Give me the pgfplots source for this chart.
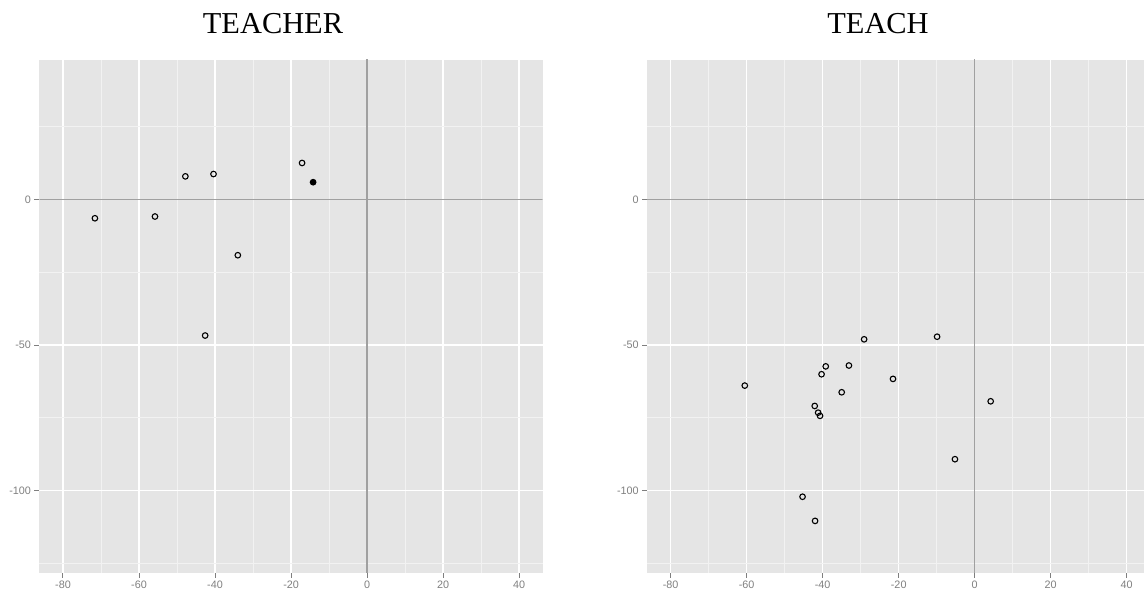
\documentclass[border=0pt]{standalone}
\usepackage{pgfplots}
\pgfplotsset{compat=1.18}
\usepackage{fontspec}
\setmainfont{Liberation Serif}
\newfontfamily\helv{Liberation Sans}

\definecolor{panelbg}{HTML}{E5E5E5}
\definecolor{minorgrid}{HTML}{F2F2F2}
\definecolor{ticktext}{HTML}{7F7F7F}
\definecolor{zeroline}{HTML}{A0A0A0}

% ggplot2 grey theme, one panel
\pgfplotsset{ggpanel/.style={
  scale only axis, height=256.35pt,
  anchor=south west,
  ymin=-128.2, ymax=48.0,
  axis background/.style={fill=panelbg},
  axis line style={draw=none},
  xtick={-80,-60,-40,-20,0,20,40},
  xticklabels={-80,-60,-40,-20,0,20,40},
  ytick={-100,-50,0},
  yticklabels={-100,-50,0},
  minor xtick={-70,-50,-30,-10,10,30},
  minor ytick={-125,-75,-25,25},
  grid=both,
  major grid style={white, line width=0.7pt},
  minor grid style={minorgrid, line width=0.45pt},
  tick align=outside,
  major tick length=2.5pt, minor tick length=0pt,
  xtick pos=bottom, ytick pos=left,
  major tick style={ticktext, line width=0.5pt},
  tick label style={font=\helv\fontsize{5.4}{6}\selectfont, text=ticktext, inner sep=0pt},
  xticklabel style={yshift=-1.5pt},
  yticklabel style={xshift=-1.5pt},
  clip=true,
}}

\begin{document}
\begin{tikzpicture}
% TEACHER
\begin{axis}[ggpanel, at={(19.7pt,9.65pt)}, width=251.65pt, xmin=-86.2, xmax=46.2]
  \addplot[zeroline, line width=0.75pt] coordinates {(-200,0) (200,0)};
  \addplot[zeroline, line width=0.75pt] coordinates {(0,-300) (0,300)};
  \addplot[only marks, mark=o, mark size=1.4pt, mark options={black, line width=0.55pt}] coordinates {
    (-71.6,-6.4) (-55.8,-5.8) (-47.8,8.0) (-40.4,8.8)
    (-17.1,12.6) (-34.0,-19.1) (-42.6,-46.7)
  };
  \addplot[only marks, mark=*, mark size=1.4pt, mark options={black, fill=black, line width=0.55pt}] coordinates {
    (-14.2,6.0)
  };
\end{axis}
% TEACH
\begin{axis}[ggpanel, at={(323.55pt,9.65pt)}, width=248.45pt, xmin=-86.2, xmax=44.55]
  \addplot[zeroline, line width=0.75pt] coordinates {(-200,0) (200,0)};
  \addplot[zeroline, line width=0.75pt] coordinates {(0,-300) (0,300)};
  \addplot[only marks, mark=o, mark size=1.4pt, mark options={black, line width=0.55pt}] coordinates {
    (-60.5,-63.9) (-45.3,-102.1) (-42.0,-110.4) (-42.1,-70.9)
    (-41.2,-73.2) (-40.7,-74.3) (-40.3,-60.0) (-39.2,-57.3)
    (-35.0,-66.2) (-33.1,-57.0) (-29.1,-48.0) (-21.5,-61.6)
    (-9.9,-47.1) (-5.2,-89.2) (4.2,-69.3)
  };
\end{axis}
\node[anchor=base, font=\fontsize{15.2}{17}\selectfont, inner sep=0pt] at (136.5pt,279.4pt) {TEACHER};
\node[anchor=base, font=\fontsize{15.2}{17}\selectfont, inner sep=0pt] at (439pt,279.4pt) {TEACH};
\pgfresetboundingbox
\path[use as bounding box] (0,0) rectangle (572pt,296pt);
\end{tikzpicture}
\end{document}
